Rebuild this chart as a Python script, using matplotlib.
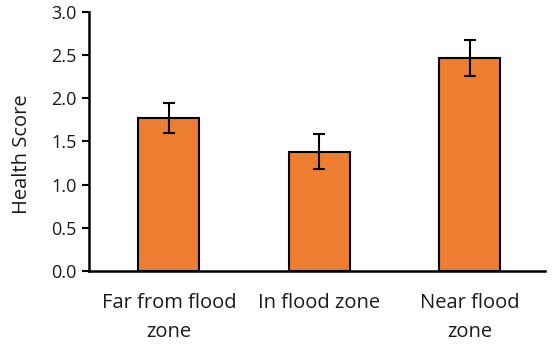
import matplotlib
matplotlib.use("Agg")
import matplotlib.pyplot as plt

categories = ["Far from flood\nzone", "In flood zone", "Near flood\nzone"]
values = [1.77, 1.38, 2.47]
errors = [0.17, 0.20, 0.21]
yticks = [0.0, 0.5, 1.0, 1.5, 2.0, 2.5, 3.0]

plt.rcParams['font.family'] = ['Open Sans', 'DejaVu Sans']

fig = plt.figure(figsize=(5.53, 3.5), dpi=100)
ax = fig.add_axes([0.161, 0.226, 0.825, 0.74])

x = list(range(len(categories)))
ax.bar(x, values, width=0.405, color="#ED7D31", edgecolor="black", linewidth=1.5,
       yerr=errors, error_kw=dict(ecolor="black", elinewidth=1.5, capsize=4, capthick=1.5))

ax.set_xlim(-0.53, 2.5)
ax.set_ylim(0, 3.0)
ax.set_yticks(yticks)
ax.set_yticklabels([f"{t:.1f}" for t in yticks], fontsize=13, color="#1a1a1a")
ax.set_xticks(x)
ax.set_xticklabels(categories, fontsize=14.5, color="#1a1a1a", linespacing=1.6)
ax.tick_params(axis="x", length=0, pad=16)
ax.tick_params(axis="y", length=5, width=1.5, direction="out", pad=4)
ax.set_ylabel("Health Score", fontsize=14.5, color="#1a1a1a", va="center")
ax.yaxis.set_label_coords(-0.147, 0.452)

for s in ["top", "right"]:
    ax.spines[s].set_visible(False)
for s in ["left", "bottom"]:
    ax.spines[s].set_linewidth(1.8)

fig.savefig("out.png", dpi=100)
